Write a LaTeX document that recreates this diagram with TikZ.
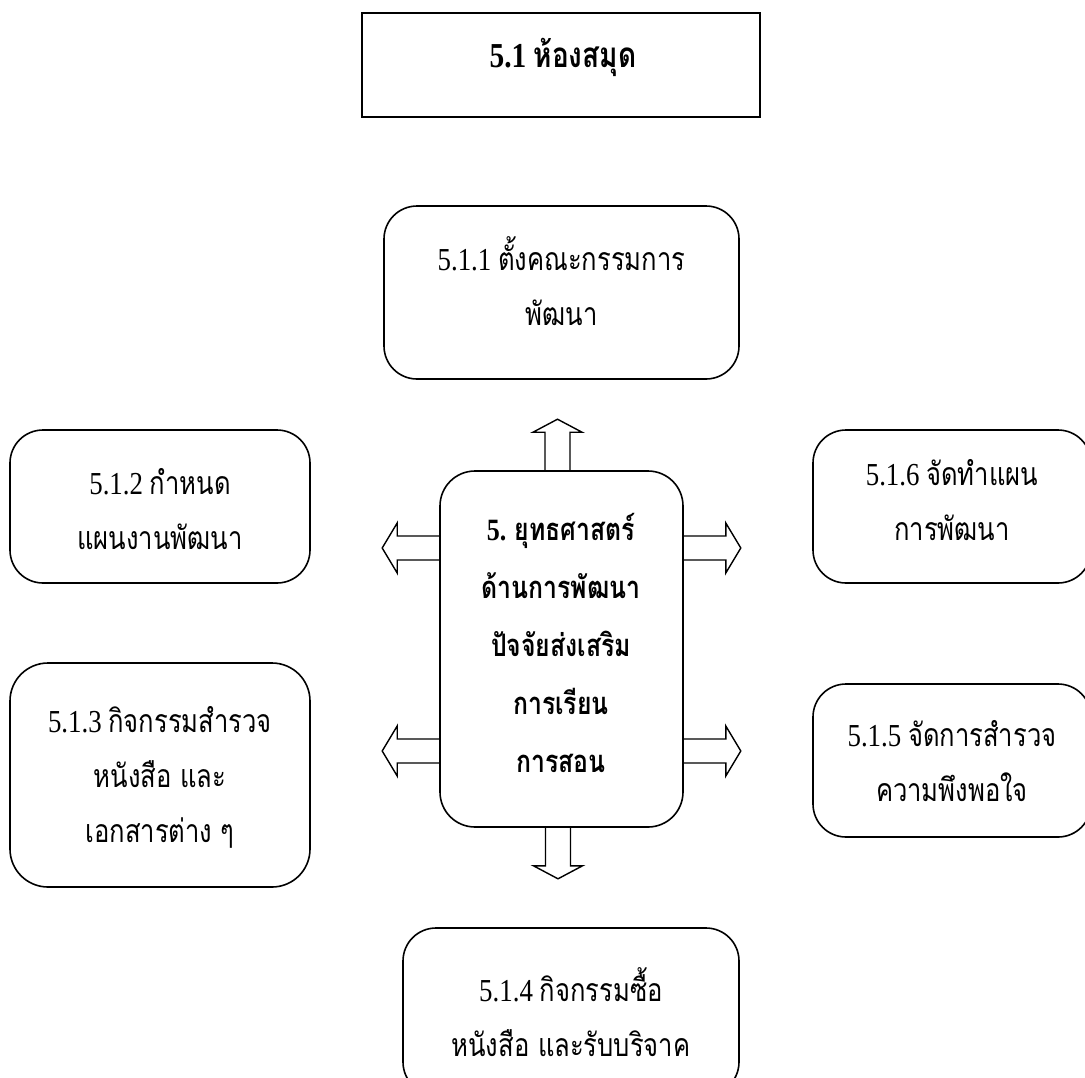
\documentclass[tikz,border=0pt]{standalone}
\usepackage{fontspec}
\setmainfont[FakeStretch=0.84]{Liberation Serif}
\newfontfamily\thai[Script=Thai,FakeStretch=0.8]{Loma}
\usetikzlibrary{calc}
\tikzset{
  box/.style={draw, line width=1.6pt, rounded corners=33pt, inner sep=0pt},
  plainbox/.style={draw, line width=2.2pt, inner sep=0pt},
  txt/.style={align=center, inner sep=0pt, font=\fontsize{32}{55}\selectfont},
  btxt/.style={align=center, inner sep=0pt, font=\fontsize{31}{58}\selectfont\bfseries},
  barrow/.style={draw, line width=1.4pt, line join=miter}
}
\begin{document}
\begin{tikzpicture}[x=1pt,y=-1pt]
\useasboundingbox (0,0) rectangle (1085,1077);
% top box
\node[plainbox, minimum width=398pt, minimum height=104pt] (top) at (561,65) {};
\node[btxt, font=\fontsize{35}{40}\selectfont\bfseries] (toptxt) at (563,57) {5.1 {\thai ห้องสมุด}};
% center
\node[box, rounded corners=35pt, minimum width=243pt, minimum height=356pt] (c) at (561.5,649) {};
\node[btxt] (ctxt) at (561,643) {5. {\thai ยุทธศาสตร์}\\ {\thai ด้านการพัฒนา}\\ {\thai ปัจจัยส่งเสริม}\\ {\thai การเรียน}\\ {\thai การสอน}};
% surrounding boxes
\node[box, minimum width=355pt, minimum height=173pt] (b1) at (561.5,292.5) {};
\node[txt] (t1) at (561.5,281.5) {5.1.1 {\thai ตั้งคณะกรรมการ}\\ {\thai พัฒนา}};
\node[box, minimum width=300pt, minimum height=153pt] (b2) at (160,506.5) {};
\node[txt] (t2) at (160,509.5) {5.1.2 {\thai กำหนด}\\ {\thai แผนงานพัฒนา}};
\node[box, rounded corners=38pt, minimum width=300pt, minimum height=224pt] (b3) at (160,775) {};
\node[txt] (t3) at (160,777) {5.1.3 {\thai กิจกรรมสำรวจ}\\ {\thai หนังสือ และ}\\ {\thai เอกสารต่าง ๆ}};
\node[box, minimum width=336pt, minimum height=167pt] (b4) at (571,1011.5) {};
\node[txt] (t4) at (571,1012) {5.1.4 {\thai กิจกรรมซื้อ}\\ {\thai หนังสือ และรับบริจาค}};
\node[box, minimum width=278pt, minimum height=153pt] (b5) at (952,760.5) {};
\node[txt] (t5) at (952,761.5) {5.1.5 {\thai จัดการสำรวจ}\\ {\thai ความพึงพอใจ}};
\node[box, minimum width=278pt, minimum height=153pt] (b6) at (952,506.5) {};
\node[txt] (t6) at (952,500) {5.1.6 {\thai จัดทำแผน}\\ {\thai การพัฒนา}};
% block arrows
\draw[barrow] ($(c.north)+(-16.5,0)$) -- ++(0,-38) -- ++(-12,0) -- ++(24.5,-13) -- ++(24.5,13) -- ++(-12,0) -- ++(0,38);
\draw[barrow] ($(c.south)+(-16,0)$) -- ++(0,38) -- ++(-12,0) -- ++(24.5,13) -- ++(24.5,-13) -- ++(-12,0) -- ++(0,-38);
\draw[barrow] ($(c.west)+(0,-113)$) -- ++(-42,0) -- ++(0,-13) -- ++(-15,25) -- ++(15,25) -- ++(0,-13) -- ++(42,0);
\draw[barrow] ($(c.west)+(0,90)$) -- ++(-42,0) -- ++(0,-13) -- ++(-15,25) -- ++(15,25) -- ++(0,-13) -- ++(42,0);
\draw[barrow] ($(c.east)+(0,-113)$) -- ++(42,0) -- ++(0,-13) -- ++(15,25) -- ++(-15,25) -- ++(0,-13) -- ++(-42,0);
\draw[barrow] ($(c.east)+(0,90)$) -- ++(42,0) -- ++(0,-13) -- ++(15,25) -- ++(-15,25) -- ++(0,-13) -- ++(-42,0);
\end{tikzpicture}
\end{document}
